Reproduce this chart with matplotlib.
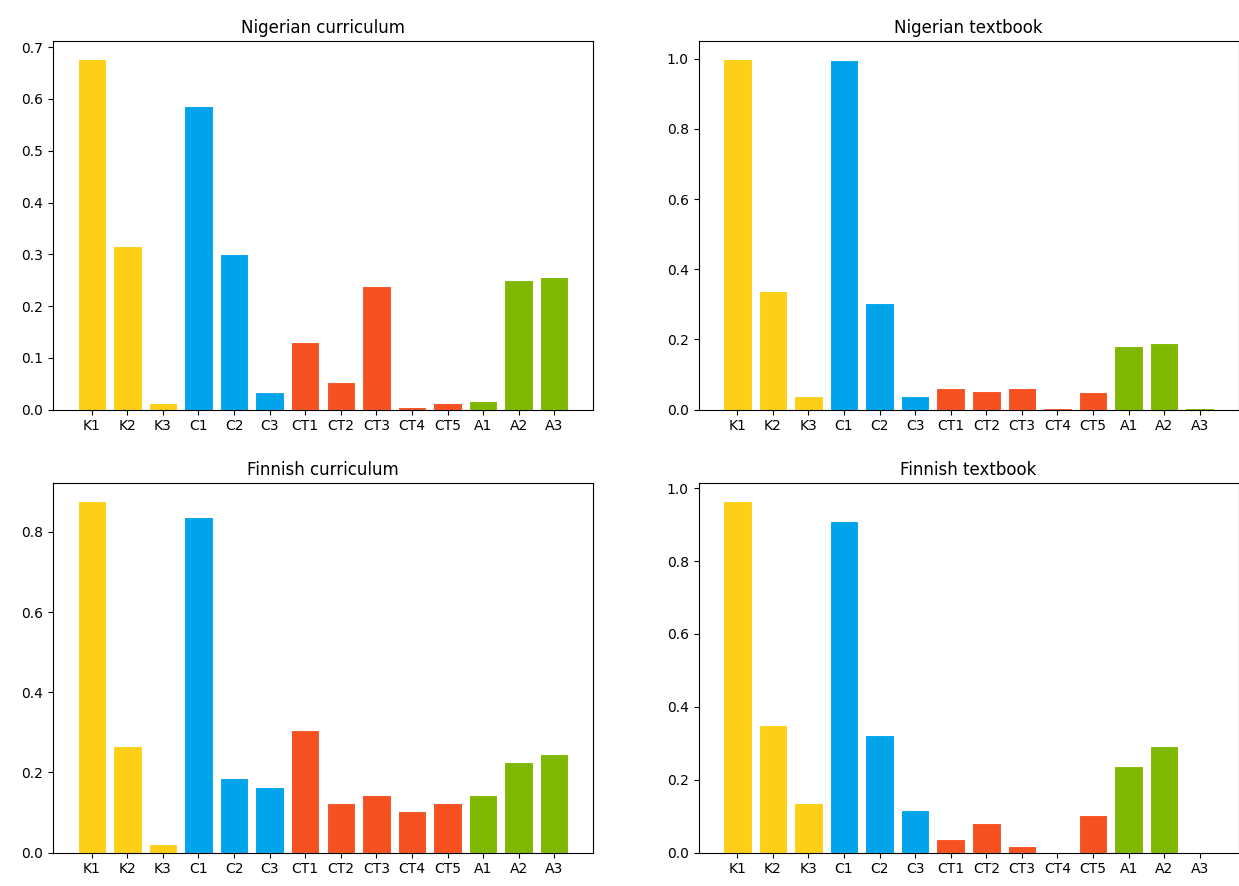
import matplotlib
matplotlib.use("Agg")
import matplotlib.pyplot as plt

categories = ["K1", "K2", "K3", "C1", "C2", "C3", "CT1", "CT2", "CT3", "CT4", "CT5", "A1", "A2", "A3"]

nigerian_curriculum = [0.678, 0.317, 0.013, 0.587, 0.301, 0.034, 0.130, 0.054, 0.238, 0.005, 0.013, 0.016, 0.250, 0.256]
nigerian_textbook = [1.000, 0.338, 0.038, 0.995, 0.305, 0.038, 0.061, 0.054, 0.061, 0.005, 0.049, 0.180, 0.189, 0.005]
finnish_curriculum = [0.877, 0.265, 0.021, 0.838, 0.186, 0.163, 0.307, 0.123, 0.143, 0.104, 0.123, 0.143, 0.226, 0.246]
finnish_textbook = [0.965, 0.349, 0.136, 0.911, 0.324, 0.117, 0.038, 0.081, 0.019, 0.0, 0.103, 0.237, 0.292, 0.0]

titles = ["Nigerian curriculum", "Nigerian textbook", "Finnish curriculum", "Finnish textbook"]

yellow, blue, red, green = "#FDD017", "#00A4EB", "#F65120", "#7FB800"
bar_colors = [yellow] * 3 + [blue] * 3 + [red] * 5 + [green] * 3

fig = plt.figure(figsize=(12.39, 8.86), dpi=100)
W, H = 1239, 886
boxes = [
    (53.0, 41.0, 540.0, 368.7),
    (698.5, 41.0, 540.0, 368.7),
    (53.0, 483.3, 540.0, 369.4),
    (698.5, 483.3, 540.0, 369.4),
]
series = [nigerian_curriculum, nigerian_textbook, finnish_curriculum, finnish_textbook]
for (x, y, w, h), vals, title in zip(boxes, series, titles):
    ax = fig.add_axes([x / W, 1 - (y + h) / H, w / W, h / H])
    ax.bar(categories, vals, color=bar_colors, edgecolor="white", linewidth=0.8)
    ax.set_title(title, fontsize=12)

fig.savefig("out.png", dpi=100)
